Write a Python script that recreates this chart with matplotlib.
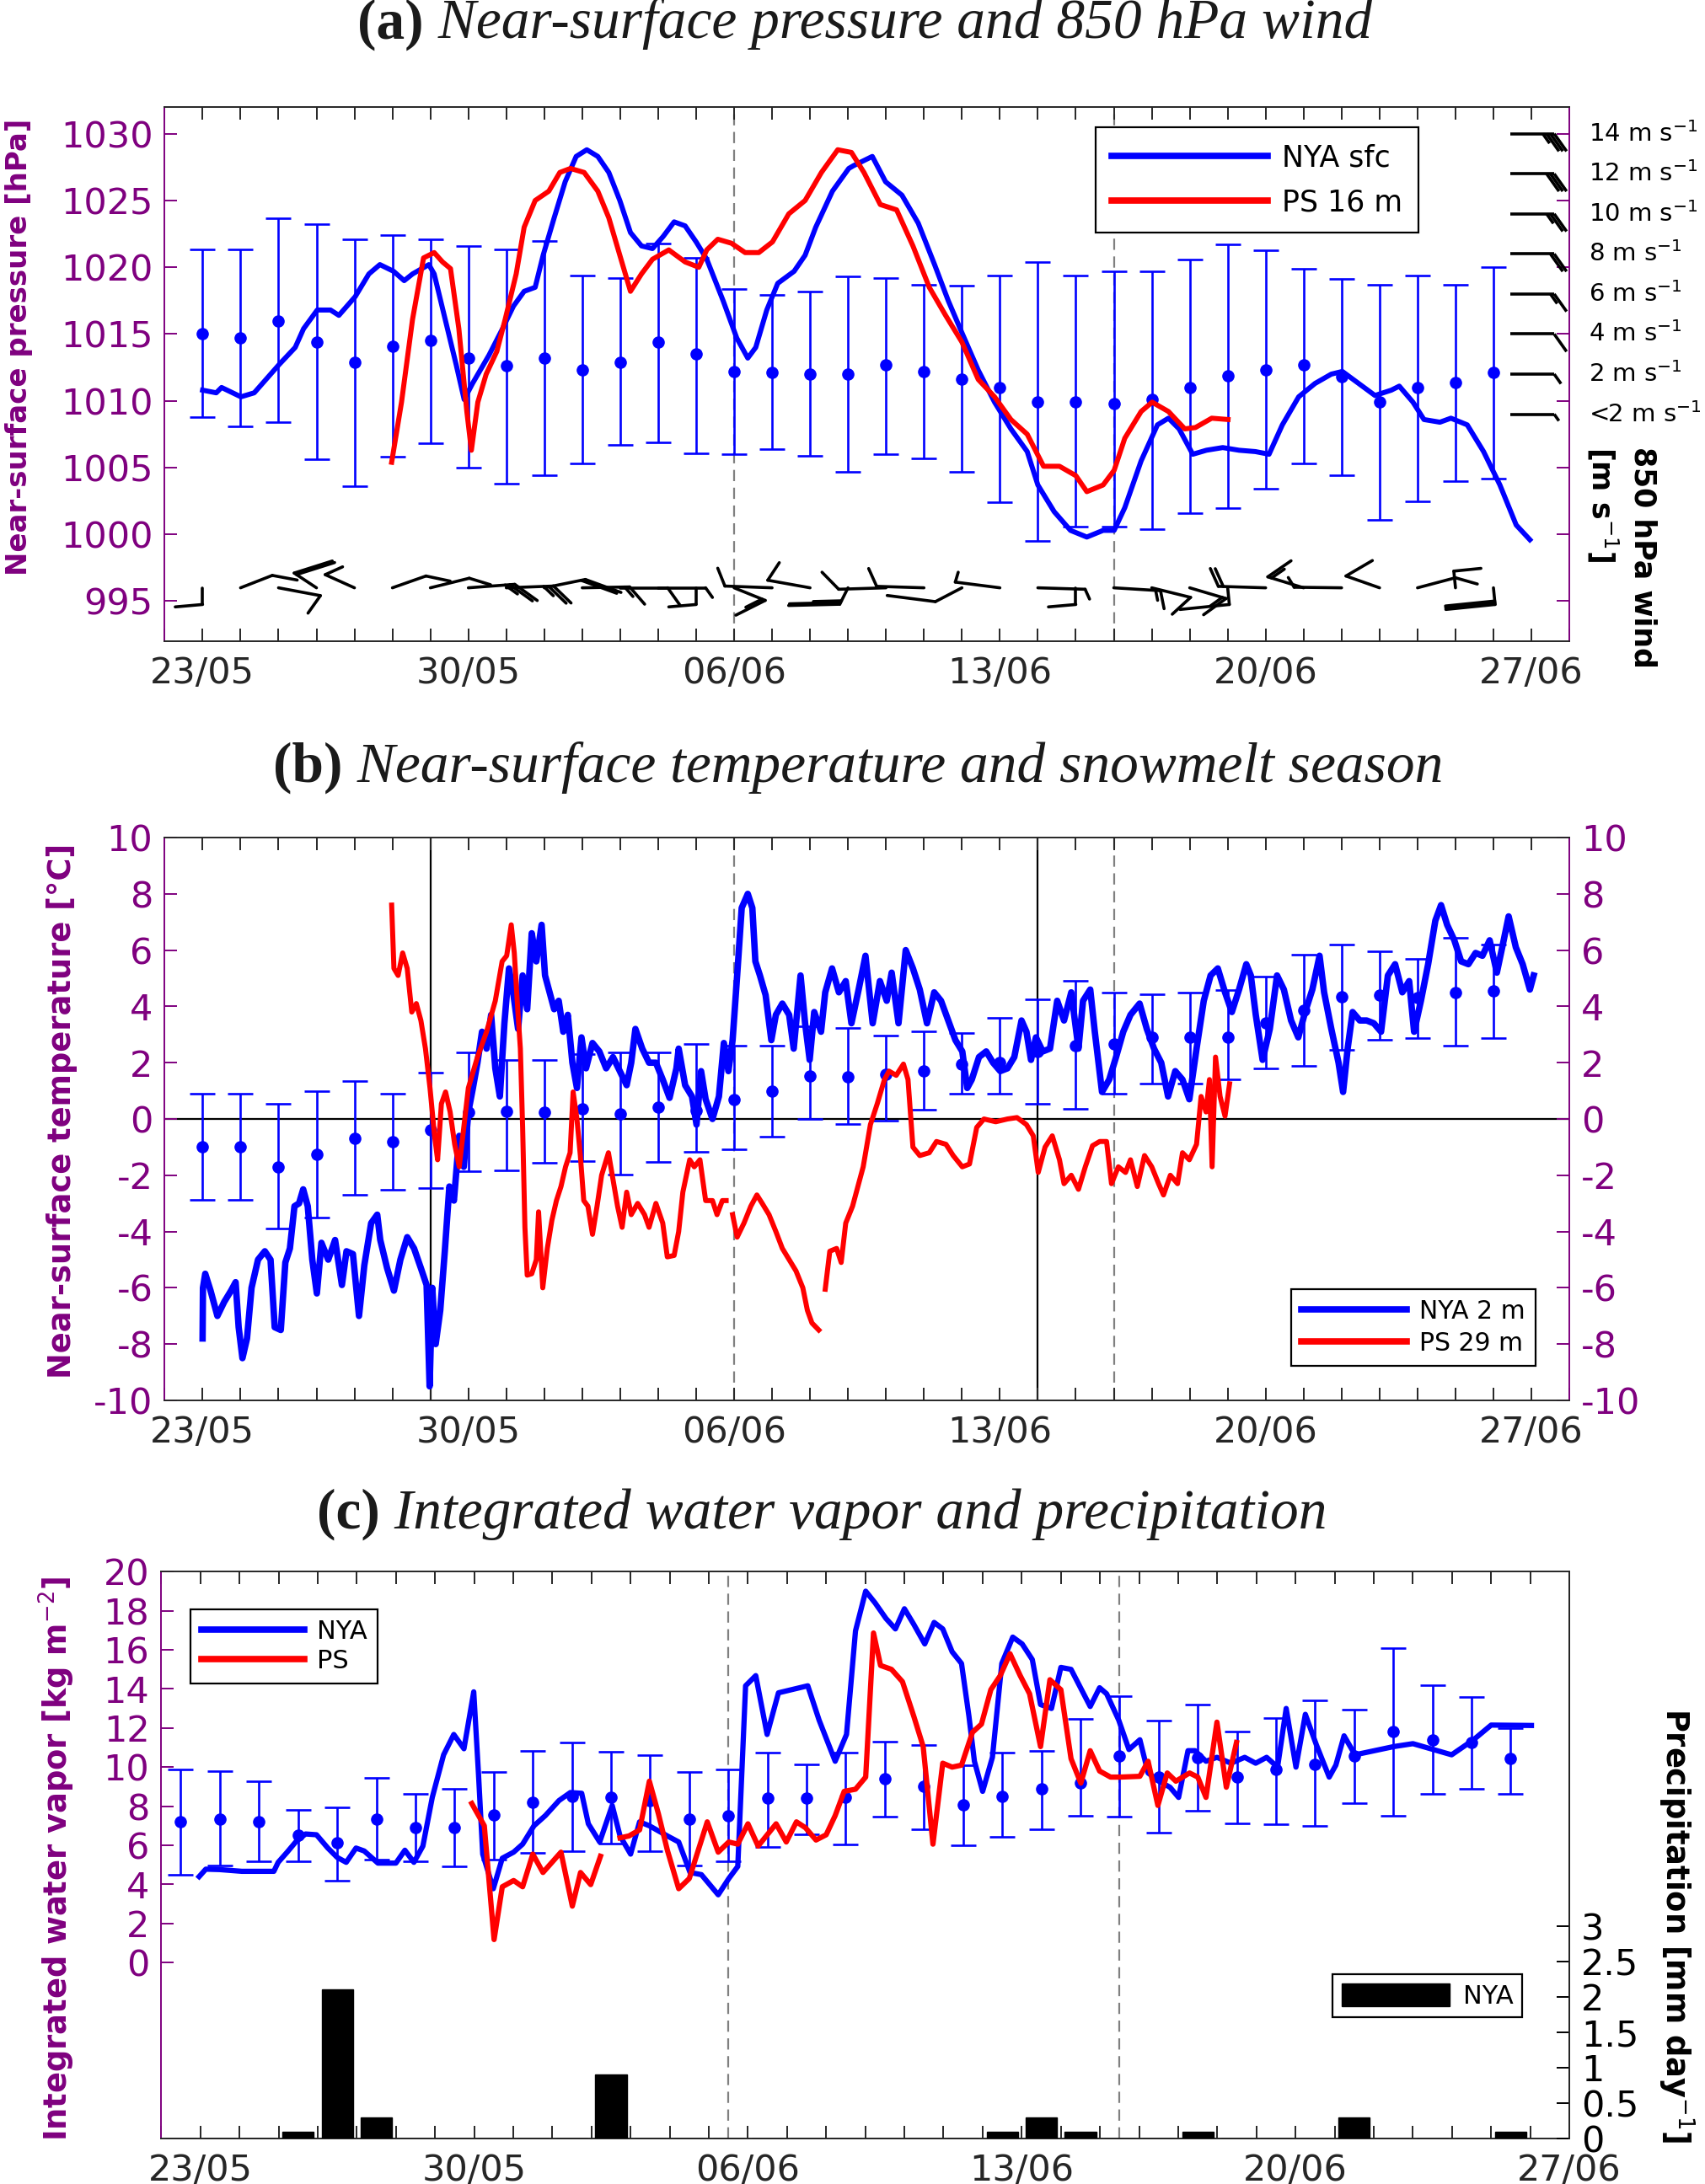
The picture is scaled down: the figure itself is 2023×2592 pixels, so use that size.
import numpy as np
import matplotlib
matplotlib.use('Agg')
import matplotlib.pyplot as plt
import matplotlib.dates as mdates
from matplotlib.collections import LineCollection
from matplotlib.offsetbox import TextArea, HPacker, AnnotationBbox
import datetime as dt

plt.rcParams['axes.unicode_minus'] = False
nan = float('nan')
BASE = dt.datetime(2017, 5, 23)

# ---------------- data ----------------
date_labels = ['23/05', '30/05', '06/06', '13/06', '20/06', '27/06']
date_label_days = [0, 7, 14, 21, 28, 35]
clim_days = list(range(35))

# (a) pressure
p_nya_t = [0.00, 0.36, 0.50, 1.01, 1.36, 2.01, 2.44, 2.66, 3.02, 3.37, 3.59, 4.02, 4.38, 4.67, 5.03, 5.31,
           5.53, 5.96, 6.10, 6.39, 6.68, 6.89, 7.11, 7.54, 7.90, 8.19, 8.47, 8.76, 8.97, 9.26, 9.55, 9.84,
           10.12, 10.41, 10.70, 10.99, 11.27, 11.56, 11.85, 12.13, 12.42, 12.71, 13.00, 13.28, 13.71, 14.07,
           14.36, 14.57, 14.86, 15.15, 15.58, 15.87, 16.15, 16.59, 17.02, 17.14, 17.64, 17.99, 18.42, 18.85,
           19.28, 19.64, 20.00, 20.43, 20.86, 21.29, 21.72, 22.00, 22.43, 22.86, 23.29, 23.72, 24.01, 24.29,
           24.72, 25.15, 25.44, 25.72, 26.08, 26.44, 26.87, 27.30, 27.73, 28.09, 28.44, 28.87, 29.30, 29.73,
           30.02, 30.45, 30.88, 31.31, 31.52, 31.88, 32.17, 32.59, 32.88, 33.31, 33.74, 34.17, 34.60, 34.96]
p_nya = [1010.8, 1010.6, 1011.0, 1010.3, 1010.6, 1012.7, 1014.0, 1015.4, 1016.8, 1016.8, 1016.4, 1017.8,
         1019.5, 1020.2, 1019.7, 1019.0, 1019.5, 1020.2, 1019.5, 1016.1, 1012.7, 1010.1, 1011.3, 1013.4,
         1015.4, 1017.1, 1018.2, 1018.5, 1020.9, 1023.7, 1026.4, 1028.3, 1028.8, 1028.3, 1027.1, 1025.0,
         1022.6, 1021.6, 1021.4, 1022.3, 1023.4, 1023.1, 1021.9, 1020.6, 1017.5, 1014.7, 1013.2, 1014.0,
         1016.8, 1018.8, 1019.7, 1020.9, 1023.0, 1025.7, 1027.4, 1027.6, 1028.3, 1026.4, 1025.4, 1023.3,
         1020.2, 1017.5, 1015.1, 1012.3, 1009.9, 1007.9, 1006.2, 1003.7, 1001.7, 1000.3, 999.8, 1000.3,
         1000.3, 1002.0, 1005.5, 1008.2, 1008.7, 1007.9, 1006.0, 1006.3, 1006.5, 1006.3, 1006.2, 1006.0,
         1008.2, 1010.3, 1011.3, 1012.0, 1012.2, 1011.3, 1010.4, 1010.8, 1011.1, 1009.9, 1008.6, 1008.4,
         1008.7, 1008.2, 1006.2, 1003.7, 1000.7, 999.6]
p_ps_t = [4.98, 5.24, 5.53, 5.82, 6.10, 6.32, 6.53, 6.75, 6.96, 7.08, 7.25, 7.47, 7.75, 7.97, 8.26, 8.47,
          8.76, 9.12, 9.41, 9.69, 10.05, 10.41, 10.70, 10.99, 11.27, 11.56, 11.85, 12.28, 12.71, 13.07,
          13.28, 13.57, 13.93, 14.29, 14.65, 15.01, 15.44, 15.87, 16.30, 16.73, 17.09, 17.42, 17.85, 18.28,
          18.71, 19.14, 19.57, 20.00, 20.43, 20.86, 21.29, 21.72, 22.15, 22.57, 23.00, 23.29, 23.72, 24.01,
          24.29, 24.72, 25.01, 25.44, 25.87, 26.15, 26.58, 27.01]
p_ps = [1005.4, 1009.9, 1016.1, 1020.7, 1021.1, 1020.4, 1019.9, 1015.4, 1009.2, 1006.3, 1009.9, 1012.0,
        1013.7, 1016.1, 1019.5, 1023.0, 1025.0, 1025.7, 1027.1, 1027.4, 1027.1, 1025.7, 1023.7, 1020.9,
        1018.2, 1019.5, 1020.6, 1021.3, 1020.4, 1020.0, 1021.3, 1022.1, 1021.8, 1021.1, 1021.1, 1021.9,
        1024.0, 1025.0, 1027.1, 1028.8, 1028.6, 1027.1, 1024.7, 1024.3, 1021.6, 1018.5, 1016.4, 1014.4,
        1011.6, 1010.3, 1008.6, 1007.5, 1005.1, 1005.1, 1004.4, 1003.2, 1003.7, 1004.8, 1007.2, 1009.2,
        1009.9, 1009.2, 1007.9, 1008.0, 1008.7, 1008.6]
p_clim_mean = [1015.0, 1014.7, 1016.0, 1014.4, 1012.9, 1014.1, 1014.5, 1013.2, 1012.6, 1013.2, 1012.3,
               1012.9, 1014.4, 1013.5, 1012.2, 1012.1, 1012.0, 1012.0, 1012.7, 1012.2, 1011.6, 1011.0,
               1009.9, 1009.9, 1009.8, 1010.1, 1011.0, 1011.9, 1012.3, 1012.7, 1011.8, 1009.9, 1011.0,
               1011.4, 1012.1]
p_clim_hi = [1021.35, 1021.35, 1023.7, 1023.2, 1022.1, 1022.4, 1022.1, 1021.6, 1021.35, 1022.0, 1019.4,
             1019.2, 1021.8, 1020.7, 1018.4, 1017.9, 1018.2, 1019.3, 1019.2, 1018.7, 1018.6, 1019.4, 1020.4,
             1019.4, 1019.7, 1019.7, 1020.6, 1021.7, 1021.25, 1019.9, 1019.1, 1018.7, 1019.4, 1018.7, 1020.0]
p_clim_lo = [1008.8, 1008.1, 1008.4, 1005.6, 1003.6, 1005.8, 1006.8, 1005.0, 1003.8, 1004.4, 1005.3,
             1006.7, 1006.9, 1006.1, 1006.0, 1006.4, 1005.9, 1004.7, 1006.0, 1005.7, 1004.7, 1002.4, 999.5,
             1000.6, 1000.6, 1000.4, 1001.6, 1002.0, 1003.4, 1005.3, 1004.4, 1001.1, 1002.5, 1004.0, 1004.2]
# 850 hPa wind: direction the wind comes from (deg) and speed (m/s), daily
wind_dir = [180, 42, 118, 332, 322, 45, 55, 78, 84, 60, 87, 90, 90, 180, 139, 276, 297, 190, 265, 275,
            214, 290, 95, 180, 100, 125, 130, 178, 275, 311, 272, 315, 53, 358, 178]
wind_spd = [2, 2, 4, 8, 3, 2, 3, 10, 10, 8, 6, 4, 2, 2, 6, 4, 4, 10, 4, 4, 4, 3, 2, 2, 7, 4, 6, 4, 8, 7,
            2, 4, 3, 2, 12]
wind_key_spd = [14, 12, 10, 8, 6, 4, 2, 1]
wind_key_lbl = ['14', '12', '10', '8', '6', '4', '2', '<2']

# (b) temperature
t_nya_t = [0.00, 0.01, 0.07, 0.21, 0.39, 0.57, 0.75, 0.87, 0.95, 1.05, 1.17, 1.29, 1.46, 1.64, 1.79, 1.90,
           2.06, 2.18, 2.30, 2.42, 2.54, 2.65, 2.77, 2.89, 3.01, 3.13, 3.31, 3.49, 3.67, 3.79, 3.96, 4.12,
           4.26, 4.44, 4.60, 4.68, 4.86, 5.04, 5.21, 5.39, 5.57, 5.75, 5.90, 5.98, 6.05, 6.14, 6.26, 6.38,
           6.50, 6.62, 6.76, 6.88, 7.00, 7.12, 7.24, 7.36, 7.48, 7.60, 7.71, 7.83, 7.95, 8.07, 8.19, 8.31,
           8.43, 8.55, 8.67, 8.79, 8.93, 9.02, 9.14, 9.26, 9.38, 9.50, 9.62, 9.74, 9.86, 9.98, 10.10, 10.27,
           10.45, 10.63, 10.81, 10.99, 11.17, 11.29, 11.40, 11.58, 11.76, 11.94, 12.12, 12.30, 12.48, 12.54,
           12.71, 12.89, 13.01, 13.13, 13.25, 13.43, 13.60, 13.73, 13.85, 13.96, 14.08, 14.20, 14.36, 14.48,
           14.56, 14.68, 14.83, 14.98, 15.10, 15.27, 15.45, 15.57, 15.75, 15.87, 15.99, 16.11, 16.29, 16.40,
           16.58, 16.76, 16.94, 17.09, 17.28, 17.46, 17.65, 17.84, 18.02, 18.15, 18.33, 18.52, 18.71, 18.89,
           19.08, 19.27, 19.45, 19.64, 19.83, 20.01, 20.14, 20.26, 20.45, 20.64, 20.82, 21.01, 21.20, 21.38,
           21.57, 21.70, 21.82, 21.95, 22.13, 22.32, 22.51, 22.69, 22.88, 23.07, 23.19, 23.38, 23.50, 23.69,
           23.88, 24.06, 24.25, 24.44, 24.68, 24.87, 25.06, 25.25, 25.43, 25.62, 25.81, 25.99, 26.18, 26.37,
           26.55, 26.74, 26.93, 27.11, 27.30, 27.49, 27.61, 27.74, 27.92, 28.11, 28.30, 28.48, 28.67, 28.86,
           29.04, 29.23, 29.42, 29.54, 29.73, 29.92, 30.04, 30.16, 30.29, 30.48, 30.66, 30.85, 31.04, 31.22,
           31.41, 31.60, 31.78, 31.91, 32.09, 32.28, 32.47, 32.62, 32.78, 32.97, 33.15, 33.34, 33.53, 33.71,
           33.90, 34.09, 34.27, 34.40, 34.59, 34.77, 34.96, 35.06]
t_nya = [-7.8, -6.0, -5.5, -6.1, -7.0, -6.5, -6.1, -5.8, -7.4, -8.5, -7.8, -6.0, -5.0, -4.7, -5.0, -7.4,
         -7.5, -5.1, -4.6, -3.1, -3.0, -2.5, -3.1, -5.0, -6.2, -4.4, -5.0, -4.3, -5.9, -4.7, -4.8, -7.0,
         -5.2, -3.7, -3.4, -4.3, -5.3, -6.1, -5.0, -4.2, -4.6, -5.3, -5.9, -9.5, -6.0, -8.0, -6.8, -4.7,
         -2.4, -2.9, -0.6, -1.7, 0.25, 1.1, 2.0, 3.1, 2.5, 3.7, 1.8, 0.8, 3.4, 5.35, 4.4, 3.2,
         5.1, 3.9, 6.6, 5.6, 6.9, 5.1, 4.5, 3.9, 4.2, 3.1, 3.7, 2.0, 1.1, 2.9, 1.8, 2.7,
         2.4, 1.8, 2.2, 1.7, 1.2, 2.0, 3.2, 2.5, 2.0, 2.0, 1.4, 0.75, 1.8, 2.5,
         1.2, 0.8, -0.2, 1.7, 0.7, 0.0, 0.8, 2.7, 1.7, 2.8, 5.1, 7.5, 8.0, 7.5,
         5.6, 5.1, 4.4, 2.8, 3.7, 4.1, 3.7, 2.5, 5.1, 3.4, 2.1, 3.8, 3.1, 4.5,
         5.35, 4.5, 4.9, 3.4, 4.6, 5.8, 3.4, 4.9, 4.2, 5.2, 3.4, 6.0, 5.35, 4.6,
         3.4, 4.5, 4.2, 3.5, 2.8, 2.4, 1.1, 1.4, 2.2, 2.4, 2.0, 1.7, 1.8, 2.2,
         3.5, 3.1, 2.1, 2.9, 2.4, 2.5, 4.2, 3.5, 4.5, 2.5, 4.2, 4.6, 3.1, 0.96,
         1.4, 2.2, 3.1, 3.7, 4.1, 3.2, 2.5, 2.0, 0.8, 1.7, 1.4, 0.7, 2.5, 4.2,
         5.1, 5.35, 4.5, 3.8, 4.6, 5.5, 5.1, 3.7, 2.1, 3.2, 5.1, 4.6, 3.5, 2.9,
         3.8, 4.6, 5.8, 4.5, 3.2, 2.0, 0.96, 2.5, 3.8, 3.5, 3.5, 3.4, 3.1, 5.1,
         5.5, 4.5, 4.9, 3.1, 4.2, 5.5, 7.05, 7.6, 6.9, 6.35, 5.6, 5.5, 5.9, 5.8,
         6.35, 5.2, 6.35, 7.2, 6.1, 5.5, 4.6, 5.1]
t_ps_t = [4.98, 5.04, 5.15, 5.27, 5.39, 5.51, 5.63, 5.75, 5.87, 5.99, 6.11, 6.19, 6.29, 6.40, 6.52, 6.64,
          6.76, 7.00, 7.24, 7.48, 7.71, 7.89, 8.01, 8.13, 8.21, 8.31, 8.37, 8.43, 8.49, 8.55, 8.67, 8.79,
          8.85, 8.96, 9.08, 9.20, 9.32, 9.44, 9.56, 9.68, 9.76, 9.86, 9.95, 10.04, 10.15, 10.27, 10.39,
          10.51, 10.69, 10.81, 10.93, 11.05, 11.17, 11.29, 11.46, 11.64, 11.76, 11.94, 12.12, 12.24, 12.42,
          12.54, 12.65, 12.83, 12.95, 13.10, 13.25, 13.43, 13.55, 13.69, 13.79, 13.87, 13.96, 14.08, 14.26,
          14.44, 14.60, 14.74, 14.92, 15.10, 15.27, 15.45, 15.63, 15.81, 15.93, 16.05, 16.23, 16.31, 16.40,
          16.52, 16.70, 16.82, 16.94, 17.12, 17.40, 17.59, 17.77, 17.96, 18.08, 18.27, 18.46, 18.58, 18.71,
          18.89, 19.14, 19.33, 19.58, 19.77, 20.01, 20.20, 20.39, 20.58, 20.89, 21.20, 21.45, 21.70, 21.88,
          22.01, 22.19, 22.38, 22.57, 22.69, 22.88, 23.07, 23.25, 23.44, 23.63, 23.81, 23.94, 24.12, 24.31,
          24.44, 24.62, 24.81, 25.00, 25.18, 25.31, 25.49, 25.68, 25.81, 25.99, 26.18, 26.30, 26.43, 26.52,
          26.59, 26.68, 26.80, 26.93, 27.05]
t_ps = [7.6, 5.35, 5.1, 5.9, 5.35, 3.8, 4.1, 3.5, 2.5, 1.1, -0.6, -1.45, 0.54, 0.96, 0.25, -0.9,
        -1.7, 1.1, 2.2, 3.1, 4.2, 5.6, 5.8, 6.9, 5.9, 3.7, 2.5, -0.3, -3.85, -5.55, -5.5, -5.0,
        -3.3, -6.0, -4.6, -3.6, -2.9, -2.4, -1.7, -1.2, 0.96, 0.0, -1.3, -2.9, -3.1, -4.1, -3.1,
        -2.0, -1.2, -2.15, -3.1, -3.85, -2.6, -3.4, -3.0, -3.4, -3.85, -3.0, -3.7, -4.9, -4.85,
        -4.0, -2.6, -1.45, -1.7, -1.45, -2.9, -2.9, -3.4, -2.9, -2.9, nan, -3.4, -4.2, -3.7,
        -3.1, -2.7, -3.0, -3.4, -4.0, -4.6, -5.0, -5.4, -6.0, -6.8, -7.25, -7.5, nan, -6.05,
        -4.7, -4.6, -5.1, -3.7, -3.1, -1.7, -0.2, 0.54, 1.4, 1.7, 1.55, 1.95, 1.4, -1.0,
        -1.3, -1.2, -0.8, -0.9, -1.3, -1.7, -1.6, -0.3, 0.0, -0.1, 0.0, 0.05, -0.2, -0.6,
        -1.9, -1.0, -0.6, -1.45, -2.3, -2.0, -2.5, -1.7, -0.95, -0.8, -0.8, -2.3, -1.7, -1.9,
        -1.45, -2.4, -1.3, -1.7, -2.3, -2.7, -2.0, -2.3, -1.2, -1.45, -0.9, 0.8, 0.25, 1.4,
        -1.7, 2.2, 0.8, 0.1, 1.25]
t_clim_mean = [-0.99, -0.99, -1.7, -1.27, -0.68, -0.82, -0.38, 0.23, 0.28, 0.23, 0.37, 0.18, 0.42, 0.3,
               0.7, 0.99, 1.53, 1.5, 1.6, 1.7, 1.95, 2.0, 2.4, 2.6, 2.66, 2.9, 2.9, 2.9, 3.4, 3.87, 4.33,
               4.4, 4.3, 4.5, 4.55]
t_clim_hi = [0.89, 0.89, 0.54, 1.0, 1.36, 0.89, 1.64, 2.38, 2.1, 2.1, 2.3, 2.38, 2.38, 2.66, 2.6, 2.6,
             3.3, 3.23, 2.95, 3.1, 3.06, 3.6, 4.25, 4.9, 4.48, 4.43, 4.48, 4.57, 5.07, 5.85, 6.2, 5.95,
             5.7, 6.45, 6.2]
t_clim_lo = [-2.86, -2.86, -3.9, -3.5, -2.7, -2.5, -2.44, -1.87, -1.83, -1.56, -1.5, -1.98, -1.53, -1.16,
             -1.09, -0.64, 0.0, -0.17, -0.07, 0.33, 0.9, 0.9, 0.54, 0.37, 0.9, 1.25, 1.25, 1.4, 1.8, 1.9,
             2.45, 2.8, 2.86, 2.6, 2.88]

# (c) integrated water vapour and precipitation
iwv_nya_t = [0.47, 0.64, 0.99, 1.56, 2.38, 2.49, 2.72, 2.95, 3.19, 3.47, 3.76, 4.00, 4.23, 4.48, 4.69,
             5.04, 5.50, 5.73, 5.96, 6.19, 6.43, 6.72, 6.98, 7.24, 7.49, 7.61, 7.72, 7.99, 8.22, 8.51,
             8.74, 9.03, 9.32, 9.67, 9.96, 10.25, 10.42, 10.71, 11.03, 11.23, 11.50, 11.73, 11.98, 12.44,
             12.73, 13.02, 13.31, 13.74, 14.01, 14.24, 14.44, 14.70, 14.99, 15.28, 16.03, 16.32, 16.73,
             17.02, 17.25, 17.51, 17.75, 18.03, 18.27, 18.50, 18.74, 19.02, 19.26, 19.48, 19.72, 19.96,
             20.15, 20.29, 20.50, 20.75, 20.99, 21.27, 21.51, 21.77, 21.98, 22.26, 22.50, 22.76, 23.25,
             23.49, 23.67, 23.98, 24.24, 24.52, 24.73, 25.01, 25.29, 25.51, 25.75, 25.93, 26.21, 26.49,
             26.85, 27.20, 27.48, 27.76, 28.04, 28.26, 28.51, 28.75, 29.03, 29.36, 29.53, 29.74, 30.02,
             31.01, 31.50, 32.49, 33.05, 33.50, 34.53]
iwv_nya = [4.4, 4.78, 4.76, 4.67, 4.67, 5.13, 5.65, 6.2, 6.58, 6.54, 5.86, 5.38, 5.13, 5.86, 5.71,
           5.09, 5.09, 5.75, 5.13, 5.96, 8.45, 10.63, 11.67, 10.94, 13.85, 9.7, 5.55, 3.78, 5.34, 5.65,
           6.06, 7.0, 7.52, 8.29, 8.7, 8.66, 7.1, 6.17, 8.04, 6.48, 5.55, 7.2, 7.0, 6.48,
           6.17, 4.61, 4.5, 3.47, 4.3, 4.92, 14.16, 14.68, 11.67, 13.8, 14.16, 12.4, 10.3,
           11.67, 16.97, 19.0, 18.4, 17.6, 17.07, 18.1, 17.3, 16.3, 17.4, 17.07, 15.9, 15.3,
           12.6, 10.3, 8.76, 10.5, 15.3, 16.65, 16.3, 15.5, 13.2, 13.0, 15.1, 15.0, 13.1,
           14.06, 13.75, 12.4, 10.9, 11.4, 9.7, 9.28, 8.97, 8.45, 10.84, 10.84, 10.3, 10.5,
           10.2, 10.5, 10.2, 10.5, 10.0, 13.0, 10.0, 12.7, 11.15, 9.49, 10.1, 11.6, 10.63,
           11.05, 11.2, 10.63, 11.4, 12.15, 12.13]
iwv_ps_t = [7.44, 7.76, 8.01, 8.22, 8.51, 8.74, 9.00, 9.26, 9.49, 9.72, 10.01, 10.22, 10.48, 10.73, 10.98,
            11.23, 11.46, 11.73, 11.98, 12.21, 12.44, 12.73, 13.00, 13.46, 13.74, 14.01, 14.24, 14.50,
            14.76, 15.22, 15.48, 15.74, 15.97, 16.24, 16.50, 16.73, 16.96, 17.25, 17.51, 17.71, 17.89,
            18.17, 18.45, 18.74, 18.98, 19.23, 19.48, 19.72, 19.96, 20.24, 20.47, 20.71, 20.95, 21.20,
            21.46, 21.70, 21.98, 22.22, 22.50, 22.76, 23.01, 23.25, 23.49, 23.77, 24.02, 24.52, 24.73,
            24.98, 25.22, 25.44, 25.79, 26.00, 26.21, 26.49, 26.73, 26.99]
iwv_ps = [8.14, 7.0, 1.18, 3.88, 4.2, 3.88, 5.55, 4.61, 5.13, 5.65, 2.89, 4.61, 3.99, 5.44, nan,
          6.38, 6.48, 6.79, 9.28, 7.62, 5.75, 3.78, 4.3, 7.2, 5.65, 6.17, 6.06, 7.1,
          5.96, 7.1, 6.17, 7.2, 6.9, 6.27, 6.54, 7.52, 8.76, 8.87, 9.49, 16.86, 15.2,
          15.0, 14.37, 12.6, 11.05, 6.06, 10.2, 10.0, 10.1, 11.78, 12.2, 13.96, 14.68, 15.8,
          14.68, 13.75, 11.05, 14.47, 13.96, 10.43, 9.18, 10.84, 9.8, 9.49, 9.49, 9.53, 10.3,
          8.04, 9.7, 9.28, 9.7, 9.49, 8.45, 12.3, 8.97, 11.26]
iwv_clim_mean = [7.2, 7.35, 7.2, 6.54, 6.13, 7.35, 6.9, 6.9, 7.56, 8.2, 8.5, 8.45, 8.3, 7.35, 7.52, 8.4,
                 8.4, 8.45, 9.39, 9.0, 8.08, 8.5, 8.87, 9.2, 10.57, 9.49, 10.5, 9.49, 9.87, 10.16, 10.57,
                 11.82, 11.4, 11.26, 10.43]
iwv_clim_hi = [9.9, 9.8, 9.28, 7.83, 7.93, 9.45, 8.62, 8.9, 9.74, 10.84, 11.26, 10.8, 10.6, 9.74, 9.9,
               10.74, 10.16, 10.76, 11.32, 11.15, 10.1, 10.74, 10.84, 12.46, 13.64, 12.36, 13.2, 11.84,
               12.5, 13.4, 12.96, 16.07, 14.2, 13.58, 12.0]
iwv_clim_lo = [4.5, 4.98, 5.17, 5.17, 4.2, 5.28, 5.17, 4.92, 5.28, 5.6, 5.71, 6.1, 5.71, 4.96, 5.17, 5.92,
               6.58, 6.06, 7.48, 6.8, 6.0, 6.42, 6.83, 7.5, 7.48, 6.65, 7.79, 7.14, 7.1, 7.0, 8.14, 7.52,
               8.62, 8.9, 8.62]
precip_nya = [0, 0, 0, 0.1, 2.1, 0.3, 0, 0, 0, 0, 0, 0.9, 0, 0, 0, 0, 0, 0, 0, 0, 0, 0.1, 0.3, 0.1, 0,
              0, 0.1, 0, 0, 0, 0.3, 0, 0, 0, 0.1]
precip_ticks = [0, 0.5, 1, 1.5, 2, 2.5, 3]
precip_tick_labels = ['0', '0.5', '1', '1.5', '2', '2.5', '3']
snow_lines = [14, 24]        # dashed lines (06/06, 16/06)
melt_lines = [6, 22]         # solid lines in (b) (29/05, 14/06)

# ---------------- style ----------------
PURPLE = '#7F007F'
DARK = '#262626'
BLUE = '#0000FF'
RED = '#FF0000'
T0 = mdates.date2num(BASE)


def tnum(offsets):
    return T0 + np.asarray(offsets, dtype=float)


fig = plt.figure(figsize=(20.24, 25.92), dpi=100)
ax_a = fig.add_axes([0.0965, 0.7064, 0.8235, 0.2446])
ax_b = fig.add_axes([0.0965, 0.3588, 0.8235, 0.2577])
ax_c = fig.add_axes([0.0945, 0.0208, 0.8255, 0.2596])


def style(ax, xstart, xend, shift, left_col=PURPLE, right_col=PURPLE, labelright=False):
    ax.set_xlim(T0 + xstart, T0 + xend)
    ticks = np.arange(np.ceil(xstart - shift), np.floor(xend - shift) + 1) + shift
    labels = []
    for t in ticks:
        k = int(round(t - shift))
        labels.append(date_labels[date_label_days.index(k)] if k in date_label_days else '')
    ax.set_xticks(T0 + ticks)
    ax.set_xticklabels(labels)
    ax.tick_params(axis='x', which='both', direction='in', top=True, bottom=True, length=11,
                   width=1.4, labelsize=31, pad=12, colors=DARK)
    ax.tick_params(axis='y', direction='in', left=True, right=True, length=11, width=1.4,
                   labelsize=31, pad=10, colors=PURPLE, labelright=labelright)
    for s in ['top', 'bottom']:
        ax.spines[s].set_color(DARK)
        ax.spines[s].set_linewidth(1.4)
    ax.spines['left'].set_color(left_col)
    ax.spines['right'].set_color(right_col)
    ax.spines['left'].set_linewidth(1.4)
    ax.spines['right'].set_linewidth(1.4)


def draw_barbs(ax, xs, ys, dirs, spds, L=1.25, F=1.35, ang=76, sp=0.13, **kw):
    segs = []
    ca, sa = np.cos(np.radians(ang)), np.sin(np.radians(ang))
    for x0, y0, dd, s in zip(xs, ys, dirs, spds):
        th = np.radians(dd)
        d = np.array([np.sin(th), np.cos(th)])
        p = np.array([d[1], -d[0]])
        b = np.array([x0, y0])
        tip = b + L * d
        segs.append([b, tip])
        fe = ca * d + sa * p
        nf = int(s // 4)
        rem = s - 4 * nf
        k = 0
        for _ in range(nf):
            st = tip - k * sp * d
            segs.append([st, st + F * fe])
            k += 1
        if rem >= 2:
            st = tip - k * sp * d
            segs.append([st, st + 0.55 * F * fe])
        elif nf == 0:
            segs.append([tip, tip + 0.38 * F * fe])
    lc = LineCollection(segs, **kw)
    ax.add_collection(lc)
    return lc


def clim_bars(ax, mean, hi, lo):
    m = np.asarray(mean)
    ax.errorbar(tnum(clim_days), m, yerr=[m - np.asarray(lo), np.asarray(hi) - m], fmt='o',
                color=BLUE, ms=9.5, capsize=11, elinewidth=1.9, capthick=1.9, zorder=2)


def vlines(ax, days, **kw):
    for d in days:
        ax.axvline(T0 + d, **kw)


dash_kw = dict(color='0.5', lw=1.6, ls=(0, (6, 3.5)), zorder=1)

# ---------------- (a) ----------------
style(ax_a, -1, 36, 0)
ax_a.set_ylim(992, 1032)
ax_a.set_yticks(np.arange(995, 1031, 5))
vlines(ax_a, snow_lines, **dash_kw)
clim_bars(ax_a, p_clim_mean, p_clim_hi, p_clim_lo)
la1, = ax_a.plot(tnum(p_nya_t), p_nya, color=BLUE, lw=4.3, zorder=3)
la2, = ax_a.plot(tnum(p_ps_t), p_ps, color=RED, lw=4.3, zorder=3)
draw_barbs(ax_a, tnum(clim_days), [996.0] * len(clim_days), wind_dir, wind_spd,
           colors='black', linewidths=2.6, zorder=4, capstyle='round')
key_y = 1030 - 3 * np.arange(len(wind_key_spd))
draw_barbs(ax_a, [T0 + 34.45] * len(wind_key_spd), key_y, [90] * len(wind_key_spd), wind_key_spd,
           L=1.15, sp=0.1, colors='black', linewidths=2.6, zorder=4, clip_on=False)
for yy, lb in zip(key_y, wind_key_lbl):
    ax_a.text(1.014, yy, lb + r' m s$^{-1}$', transform=ax_a.get_yaxis_transform(), fontsize=21,
              va='center', ha='left', color='black')
leg = ax_a.legend([la1, la2], ['NYA sfc', 'PS 16 m'], loc='upper left', bbox_to_anchor=(0.663, 0.962),
                  borderaxespad=0, fontsize=25, handlelength=5.3, handletextpad=0.5, borderpad=0.55,
                  labelspacing=0.55, fancybox=False, edgecolor='black', framealpha=1)
leg.get_frame().set_linewidth(1.6)
for ln in leg.get_lines():
    ln.set_linewidth(5.5)
ax_a.set_ylabel('Near-surface pressure [hPa]', color=PURPLE, fontsize=24.5, fontweight='bold')
ax_a.yaxis.set_label_coords(-0.094, 0.55)
ax_a.text(1.037, 0.365, '850 hPa wind\n[m s$^{-1}$]', transform=ax_a.transAxes, rotation=270,
          ha='center', va='top', multialignment='left', fontsize=25, fontweight='bold', linespacing=1.3)

# ---------------- (b) ----------------
style(ax_b, -1, 36, 0, labelright=True)
ax_b.set_ylim(-10, 10)
ax_b.set_yticks(np.arange(-10, 11, 2))
vlines(ax_b, snow_lines, **dash_kw)
vlines(ax_b, melt_lines, color='black', lw=1.6, zorder=1)
ax_b.axhline(0, color='black', lw=1.6, zorder=1)
clim_bars(ax_b, t_clim_mean, t_clim_hi, t_clim_lo)
lb1, = ax_b.plot(tnum(t_nya_t), t_nya, color=BLUE, lw=5.5, zorder=3)
lb2, = ax_b.plot(tnum(t_ps_t), t_ps, color=RED, lw=4.3, zorder=3)
leg = ax_b.legend([lb1, lb2], ['NYA 2 m', 'PS 29 m'], loc='lower left', bbox_to_anchor=(0.802, 0.062),
                  borderaxespad=0, fontsize=21.5, handlelength=4.2, handletextpad=0.5, borderpad=0.4,
                  labelspacing=0.3, fancybox=False, edgecolor='black', framealpha=1)
leg.get_frame().set_linewidth(1.6)
for ln in leg.get_lines():
    ln.set_linewidth(5.5)
ax_b.set_ylabel('Near-surface temperature [°C]', color=PURPLE, fontsize=26.5, fontweight='bold')
ax_b.yaxis.set_label_coords(-0.062, 0.514)

# ---------------- (c) ----------------
style(ax_c, -0.5, 35.5, 0.5, right_col=DARK)
ax_c.set_ylim(-9, 20)
ax_c.set_yticks(np.arange(0, 21, 2))
vlines(ax_c, snow_lines, **dash_kw)
clim_bars(ax_c, iwv_clim_mean, iwv_clim_hi, iwv_clim_lo)
lc1, = ax_c.plot(tnum(iwv_nya_t), iwv_nya, color=BLUE, lw=4.5, zorder=3)
lc2, = ax_c.plot(tnum(iwv_ps_t), iwv_ps, color=RED, lw=4.5, zorder=3)
leg = ax_c.legend([lc1, lc2], ['NYA', 'PS'], loc='upper left', bbox_to_anchor=(0.021, 0.934),
                  borderaxespad=0, fontsize=22, handlelength=4.0, handletextpad=0.5, borderpad=0.4,
                  labelspacing=0.2, fancybox=False, edgecolor='black', framealpha=1)
leg.get_frame().set_linewidth(1.6)
for ln in leg.get_lines():
    ln.set_linewidth(5.5)
ax_c.set_ylabel('Integrated water vapor [kg m$^{-2}$]', color=PURPLE, fontsize=26.5, fontweight='bold')
ax_c.yaxis.set_label_coords(-0.06, 0.494)

ax_p = ax_c.twinx()
ax_p.set_ylim(0, 8)
bars = ax_p.bar(tnum(clim_days), precip_nya, width=0.8, color='black', edgecolor='black', lw=1)
ax_p.set_yticks(precip_ticks)
ax_p.set_yticklabels(precip_tick_labels)
ax_p.tick_params(axis='y', direction='in', length=11, width=1.4, labelsize=31, pad=10, colors='black')
ax_p.spines['left'].set_visible(False)
ax_p.spines['top'].set_visible(False)
ax_p.spines['bottom'].set_visible(False)
ax_p.spines['right'].set_color(DARK)
ax_p.spines['right'].set_linewidth(1.4)
leg = ax_p.legend([bars], ['NYA'], loc='upper left', bbox_to_anchor=(0.832, 0.29), borderaxespad=0,
                  fontsize=22, handlelength=4.2, handleheight=1.0, handletextpad=0.5, borderpad=0.35,
                  fancybox=False, edgecolor='black', framealpha=1)
leg.get_frame().set_linewidth(1.6)
ax_p.text(1.076, 0.376, 'Precipitation [mm day$^{-1}$]', transform=ax_p.transAxes, rotation=270,
          ha='center', va='center', fontsize=26.5, fontweight='bold')

# ---------------- titles ----------------
titles = [('(a)', 'Near-surface pressure and 850 hPa wind', 0.507, 0.989),
          ('(b)', 'Near-surface temperature and snowmelt season', 0.503, 0.6485),
          ('(c)', 'Integrated water vapor and precipitation', 0.482, 0.3067)]
for tag, txt, x, y in titles:
    box = HPacker(children=[TextArea(tag, textprops=dict(fontsize=48.5, fontweight='bold',
                                                         family='Liberation Serif', color='#1a1a1a')),
                            TextArea(' ' + txt, textprops=dict(fontsize=48.5, style='italic',
                                                               family='Liberation Serif', color='#1a1a1a'))],
                  align='baseline', pad=0, sep=0)
    ab = AnnotationBbox(box, (x, y), xycoords='figure fraction', frameon=False, box_alignment=(0.5, 0.5))
    fig.add_artist(ab)

fig.savefig('out.png', dpi=100)
